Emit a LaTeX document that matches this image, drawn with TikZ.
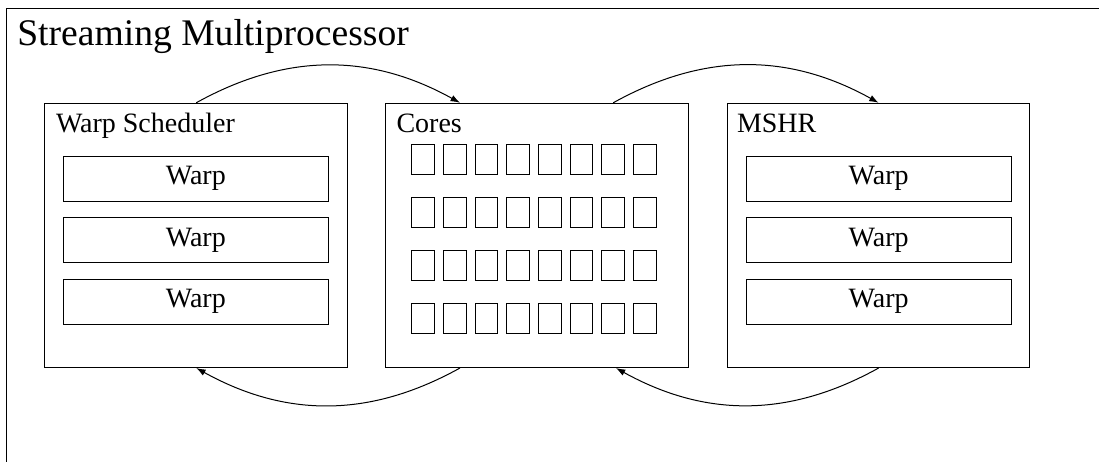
\documentclass[tikz,border=0pt]{standalone}
\usepackage{fontspec}
\setmainfont{Liberation Serif}
\usetikzlibrary{arrows.meta}
\begin{document}
\begin{tikzpicture}[
  x=0.75pt, y=-0.75pt, line width=0.75pt,
  unitbox/.style={draw, inner sep=0pt, minimum width=226.9pt, minimum height=198.2pt},
  warpbox/.style={draw, inner sep=0pt, minimum width=198.75pt, minimum height=33.75pt,
    font=\fontsize{21}{25}\selectfont},
  corebox/.style={draw, inner sep=0pt, minimum width=17pt, minimum height=22.5pt},
  unitlabel/.style={anchor=base west, inner sep=0pt, font=\fontsize{21}{25}\selectfont},
  flow/.style={-{Latex[length=7pt,width=5pt]}, bend left=29},
]
% page area
\clip (0,0) rectangle (1099,461);
\useasboundingbox (0,0) rectangle (1099,461);

% enclosing streaming multiprocessor (extends past the page on the right and bottom)
\draw (6,8) rectangle (1130,500);
\node[anchor=base west, inner sep=0pt, font=\fontsize{28.2}{34}\selectfont] (title) at (16.8,45) {Streaming Multiprocessor};

% the three units
\node[unitbox] (ws)    at (196.25,235.4) {};
\node[unitbox] (cores) at (537.25,235.4) {};
\node[unitbox] (mshr)  at (878.6,235.4) {};

\node[unitlabel] (wsl)    at (55.5,132) {Warp Scheduler};
\node[unitlabel] (coresl) at (396,132)  {Cores};
\node[unitlabel] (mshrl)  at (736.5,132) {MSHR};

% warps held by the scheduler and by the MSHR
\foreach \i/\y in {1/178.5, 2/240, 3/301.5} {
  \node[warpbox] (w\i) at (195.8,\y) {Warp};
  \node[warpbox] (m\i) at (878.6,\y) {Warp};
}

% grid of cores
\foreach \j in {0,...,3} {
  \foreach \i in {0,...,7} {
    \node[corebox] (c-\i-\j) at ({423.05+31.67*\i},{159.3+53*\j}) {};
  }
}

% flow between the units
\draw[flow] (ws.north) to ([xshift=-58pt]cores.north);
\draw[flow] ([xshift=57pt]cores.north) to (mshr.north);
\draw[flow] ([xshift=-58pt]cores.south) to (ws.south);
\draw[flow] (mshr.south) to ([xshift=59pt]cores.south);
\end{tikzpicture}
\end{document}
